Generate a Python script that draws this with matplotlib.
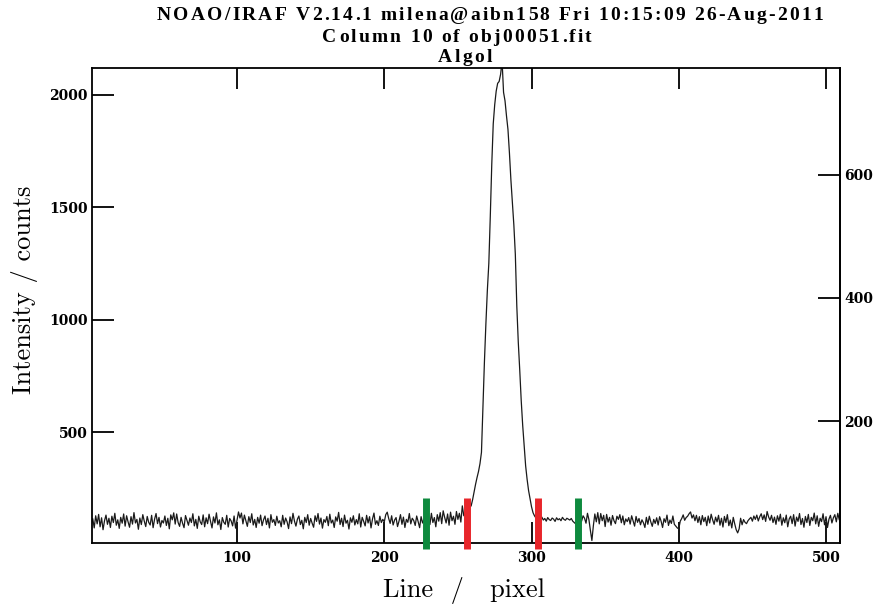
import numpy as np
import matplotlib
matplotlib.use('Agg')
import matplotlib.pyplot as plt
from matplotlib.font_manager import FontProperties

# ---------------- data ----------------
baseline_left = [
    88, 115, 74, 128, 92, 134, 79, 119, 66, 106, 131, 90, 117, 76, 126, 98, 139, 86, 110, 72,
    121, 95, 136, 82, 128, 101, 77, 124, 91, 142, 96, 112, 68, 118, 89, 133, 104, 80, 125, 99,
    87, 130, 75, 113, 138, 93, 121, 78, 107, 96, 127, 85, 117, 70, 132, 110, 141, 91, 136, 98,
    81, 121, 95, 75, 129, 107, 86, 118, 98, 137, 83, 112, 72, 126, 101, 89, 132, 79, 119, 93,
    135, 103, 74, 123, 96, 141, 88, 110, 67, 120, 99, 90, 130, 78, 116, 105, 83, 127, 73, 108,
    145, 118, 140, 92, 131, 106, 81, 124, 98, 137, 87, 112, 76, 121, 95, 131, 84, 110, 127, 89,
    117, 74, 133, 99, 111, 85, 126, 96, 106, 79, 130, 90, 118, 101, 71, 123, 93, 139, 104, 82,
    113, 127, 89, 108, 70, 121, 98, 133, 86, 116, 95, 77, 128, 103, 138, 91, 118, 73, 111, 99,
    125, 84, 135, 96, 109, 76, 123, 104, 143, 89, 117, 80, 131, 95, 108, 69, 119, 99, 128, 87,
    111, 92, 137, 78, 121, 103, 83, 130, 96, 124, 74, 114, 140, 90, 106, 85, 126, 98, 112, 101,
    133, 144, 116, 94, 128, 87, 109, 120, 80, 104, 133, 90, 122, 76, 112, 99, 138, 92, 117, 107,
    85, 127, 102, 75, 124, 96, 113, 72, 131, 108, 89, 139, 98, 120, 79, 133, 104, 142, 93, 150,
    121, 96, 136, 86, 144, 106, 126, 90, 147, 112, 139, 100, 172, 128,
]

peak_profile = [
    140, 158, 165, 166, 172, 200, 235, 268, 298, 325,
    360, 410, 610, 810, 980, 1130, 1250, 1460, 1690, 1870,
    1955, 2015, 2050, 2058, 2090, 2150, 2010, 1972, 1905, 1845,
    1740, 1620, 1520, 1420, 1290, 1060, 900, 775, 640, 530,
    440, 350, 290, 240, 205, 168, 142, 128, 118, 110,
    114,
]

baseline_right = [
    118, 122, 109, 116, 104, 120, 111, 107, 118, 113, 103, 119, 110, 115, 106, 121, 112, 108, 117, 113,
    109, 116, 104, 98, 92, 85,
    96, 100, 104, 128, 117, 95, 139, 110, 62, 18, 84, 136, 101, 142,
    92, 138, 106, 130, 80, 134, 100, 121, 86, 129, 106, 93, 126, 112, 133, 97, 127, 88, 114, 102,
    120, 91, 128, 105, 82, 125, 99, 116, 88, 110, 97, 76, 121, 90, 126, 101, 81, 112, 94, 119,
    87, 124, 104, 76, 115, 99, 131, 85, 109, 94, 127, 90, 82, 74, 70, 104, 116, 132, 108, 120,
    126, 137, 145, 118, 132, 106, 130, 98, 124, 88, 129, 102, 121, 84, 127, 96, 135, 110, 90, 122,
    101, 130, 86, 117, 78, 125, 98, 133, 84, 109, 74, 121, 92, 66, 52, 70, 117, 88, 111, 99,
    93, 106, 114, 121, 104, 127, 112, 131, 105, 124, 137, 111, 132, 103, 147, 123, 108, 130, 98, 122,
    90, 128, 104, 135, 86, 119, 97, 131, 79, 114, 126, 93, 133, 82, 122, 103, 138, 89, 116, 77,
    125, 98, 134, 85, 121, 106, 140, 92, 128, 81, 117, 102, 137, 88, 124, 76, 113, 130, 96, 119,
    133, 101, 139, 110, 126, 104, 121,
]

aperture_limits = [256, 304.5]      # red marks
background_limits = [228.5, 331.7]  # green marks
marker_span = [-18, 208]

x_ticks = [100, 200, 300, 400, 500]
y_ticks = [500, 1000, 1500, 2000]
right_ticks = [200, 400, 600]
gain = 2.74

title_lines = ["NOAO/IRAF V2.14.1 milena@aibn158 Fri 10:15:09 26-Aug-2011",
               "Column 10 of obj00051.fit",
               "Algol"]
x_label = "Line  /   pixel"
y_label = "Intensity / counts"

counts = np.array(baseline_left + peak_profile + baseline_right, dtype=float)
line = np.arange(1, len(counts) + 1)

# ---------------- figure ----------------
plt.rcParams['font.family'] = ['DejaVu Serif']
plt.rcParams['font.weight'] = 'bold'

W, H = 876, 610
fig = plt.figure(figsize=(W / 100, H / 100), dpi=100)
L, R, T, B = 92, 840, 68, 543
ax = fig.add_axes([L / W, 1 - B / H, (R - L) / W, (B - T) / H])

ax.plot(line, counts, color='#1a1a1a', lw=0.9, zorder=2)
for x in background_limits:
    ax.plot([x, x], marker_span, color='#0e8a3e', lw=5, solid_capstyle='butt',
            clip_on=False, zorder=3)
for x in aperture_limits:
    ax.plot([x, x], marker_span, color='#e8262b', lw=5, solid_capstyle='butt',
            clip_on=False, zorder=3)

ax.set_xlim(1.5, 509.5)
ax.set_ylim(7, 2118)
ax.set_xticks(x_ticks)
ax.set_yticks(y_ticks)
for s in ax.spines.values():
    s.set_linewidth(1.3)
ax.tick_params(axis='both', direction='in', width=1.3, labelsize=10)
ax.tick_params(axis='x', length=15, top=True, pad=6)
ax.tick_params(axis='y', length=16, right=False, pad=3)

sec = ax.secondary_yaxis('right', functions=(lambda v: v / gain, lambda r: r * gain))
sec.set_yticks(right_ticks)
sec.tick_params(direction='in', length=16, width=1.3, labelsize=10, pad=3)
sec.spines['right'].set_linewidth(1.3)

# ---- letter-spaced IRAF-like title ----
renderer = fig.canvas.get_renderer()
tprop = FontProperties(family='Liberation Serif', weight='bold', size=14)


def char_widths(s):
    base = renderer.get_text_width_height_descent('||', tprop, ismath=False)[0]
    return [renderer.get_text_width_height_descent('|' + ch + '|', tprop, ismath=False)[0] - base
            for ch in s]


w1 = char_widths(title_lines[0])
spacing = (666 - sum(w1)) / (len(title_lines[0]) - 1)


def spaced_text(s, xc, y):
    ws = char_widths(s)
    total = sum(ws) + spacing * (len(s) - 1)
    x = xc - total / 2
    for ch, w in zip(s, ws):
        if ch != ' ':
            fig.text(x / W, 1 - y / H, ch, fontproperties=tprop, ha='left', va='center')
        x += w + spacing


spaced_text(title_lines[0], 490, 15)
spaced_text(title_lines[1], 457, 37)
spaced_text(title_lines[2], 465, 57)

fig.text(464 / W, 1 - 590 / H, x_label, family='cmr10', weight='normal', size=19,
         ha='center', va='center')
fig.text(25 / W, 1 - 290 / H, y_label, family='cmr10', weight='normal', size=19,
         ha='center', va='center', rotation=90)

fig.savefig('out.png', dpi=100)
